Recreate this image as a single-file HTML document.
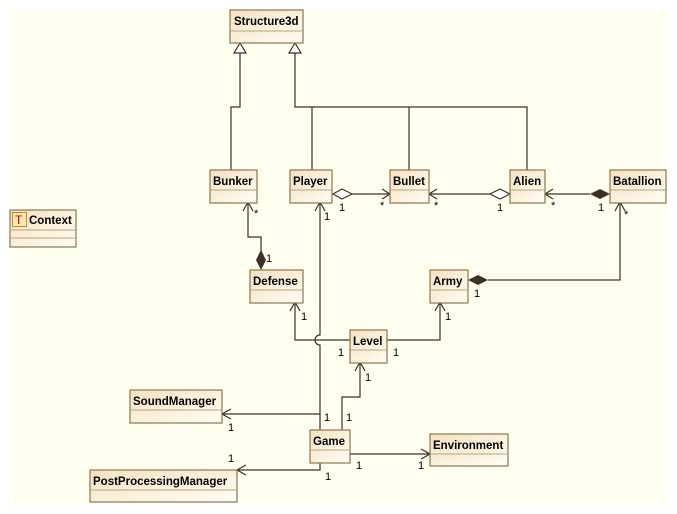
<!DOCTYPE html>
<html><head><meta charset="utf-8"><style>
html,body{margin:0;padding:0;background:#fff;}
svg{display:block;font-family:"Liberation Sans",sans-serif;}
.b{font-weight:bold;font-size:11.5px;fill:#000;}
.m{font-size:11px;fill:#000;}
.ln{stroke:#3d3123;stroke-width:1.2;fill:none;}
.bx{fill:url(#g);stroke:#8c7452;stroke-width:1.2;}
.dv{stroke:#b8a27e;stroke-width:1;}
</style></head><body>
<svg width="677" height="514" viewBox="0 0 677 514" xmlns="http://www.w3.org/2000/svg">
<defs>
<linearGradient id="g" x1="0" y1="0" x2="1" y2="1">
<stop offset="0" stop-color="#f4e2c0"/><stop offset="1" stop-color="#fffdf4"/>
</linearGradient>
</defs>
<rect x="10" y="10" width="657" height="494" fill="#fffff0"/>

<!-- generalization lines -->
<path class="ln" d="M240 53 V107 H231 V170"/>
<path class="ln" d="M295 53 V107 H527 V170 M312 107 V170 M409 107 V170"/>
<polygon points="240,43 234,53 246,53" fill="#fff" stroke="#3d3123" stroke-width="1.2"/>
<polygon points="295,43 289,53 301,53" fill="#fff" stroke="#3d3123" stroke-width="1.2"/>

<!-- Player - Bullet -->
<path class="ln" d="M352 194 H390 M382 189 L390 194 L382 199"/>
<polygon points="333,194 342,189 352,194 342,199" fill="#fff" stroke="#3d3123" stroke-width="1.2"/>
<!-- Alien - Bullet -->
<path class="ln" d="M490 194 H429 M437 189 L429 194 L437 199"/>
<polygon points="510,194 500,189 490,194 500,199" fill="#fff" stroke="#3d3123" stroke-width="1.2"/>
<!-- Batallion - Alien -->
<path class="ln" d="M590 194 H545 M553 189 L545 194 L553 199"/>
<polygon points="610,194 600,189 590,194 600,199" fill="#3d3123"/>
<!-- Bunker - Defense -->
<path class="ln" d="M248 202 V237 H261 V252 M243 211 L248 202 L253 211"/>
<polygon points="261,250 256,260 261,270 266,260" fill="#3d3123"/>
<!-- Player <- Game with hop -->
<path class="ln" d="M320 202 V335 A5 5 0 0 0 320 345 V430 M315 211 L320 202 L325 211"/>
<!-- Defense <- Level -->
<path class="ln" d="M295 302 V340 H350 M290 311 L295 302 L300 311"/>
<!-- Army <- Level -->
<path class="ln" d="M387 340 H440 V302 M435 311 L440 302 L445 311"/>
<!-- Army - Batallion -->
<path class="ln" d="M488 280 H620 V202 M615 211 L620 202 L625 211"/>
<polygon points="468,280 478,275 488,280 478,285" fill="#3d3123"/>
<!-- Game -> Level -->
<path class="ln" d="M342 430 V397 H360 V362 M355 371 L360 362 L365 371"/>
<!-- Game -> SoundManager -->
<path class="ln" d="M320 414 H222 M231 409 L222 414 L231 419"/>
<!-- Game -> PPM -->
<path class="ln" d="M320 462 V470 H237 M246 465 L237 470 L246 475"/>
<!-- Game -> Environment -->
<path class="ln" d="M350 454 H430 M421 449 L430 454 L421 459"/>

<!-- boxes -->
<g>
<rect class="bx" x="230" y="10" width="73" height="33"/><line class="dv" x1="230" y1="31" x2="303" y2="31"/><text class="b" x="234" y="25">Structure3d</text>
<rect class="bx" x="210" y="170" width="47" height="33"/><line class="dv" x1="210" y1="190" x2="257" y2="190"/><text class="b" x="213" y="185">Bunker</text>
<rect class="bx" x="290" y="170" width="42" height="33"/><line class="dv" x1="290" y1="190" x2="332" y2="190"/><text class="b" x="293" y="185">Player</text>
<rect class="bx" x="390" y="170" width="39" height="33"/><line class="dv" x1="390" y1="190" x2="429" y2="190"/><text class="b" x="393" y="185">Bullet</text>
<rect class="bx" x="510" y="170" width="35" height="33"/><line class="dv" x1="510" y1="190" x2="545" y2="190"/><text class="b" x="513" y="185">Alien</text>
<rect class="bx" x="610" y="170" width="56" height="33"/><line class="dv" x1="610" y1="190" x2="666" y2="190"/><text class="b" x="613" y="185">Batallion</text>
<rect class="bx" x="10" y="210" width="66" height="37"/><line class="dv" x1="10" y1="230" x2="76" y2="230"/><line class="dv" x1="10" y1="238" x2="76" y2="238"/>
<rect x="12.5" y="212.5" width="14" height="14" fill="#fbe7b0" stroke="#c08a2a" stroke-width="1"/><text x="15" y="224" font-size="12" fill="#c00000">T</text>
<text class="b" x="29" y="224">Context</text>
<rect class="bx" x="250" y="270" width="53" height="33"/><line class="dv" x1="250" y1="290" x2="303" y2="290"/><text class="b" x="253" y="285">Defense</text>
<rect class="bx" x="430" y="270" width="38" height="33"/><line class="dv" x1="430" y1="290" x2="468" y2="290"/><text class="b" x="433" y="285">Army</text>
<rect class="bx" x="350" y="330" width="37" height="33"/><line class="dv" x1="350" y1="350" x2="387" y2="350"/><text class="b" x="353" y="345">Level</text>
<rect class="bx" x="130" y="390" width="92" height="33"/><line class="dv" x1="130" y1="410" x2="222" y2="410"/><text class="b" x="133" y="405">SoundManager</text>
<rect class="bx" x="310" y="430" width="40" height="33"/><line class="dv" x1="310" y1="450" x2="350" y2="450"/><text class="b" x="313" y="445">Game</text>
<rect class="bx" x="430" y="434" width="78" height="32"/><line class="dv" x1="430" y1="454" x2="508" y2="454"/><text class="b" x="433" y="449">Environment</text>
<rect class="bx" x="90" y="470" width="147" height="32"/><line class="dv" x1="90" y1="490" x2="237" y2="490"/><text class="b" x="93" y="485">PostProcessingManager</text>
</g>

<!-- multiplicities -->
<g class="m">
<text x="339" y="211">1</text><text x="380" y="209">*</text>
<text x="434" y="209">*</text><text x="497" y="211">1</text>
<text x="551" y="209">*</text><text x="598" y="211">1</text>
<text x="254" y="217">*</text><text x="266" y="262">1</text>
<text x="324" y="220">1</text>
<text x="301" y="320">1</text><text x="338" y="356">1</text>
<text x="393" y="356">1</text><text x="445" y="320">1</text>
<text x="474" y="297">1</text><text x="624" y="218">*</text>
<text x="365" y="381">1</text><text x="346" y="421">1</text>
<text x="324" y="421">1</text><text x="228" y="431">1</text>
<text x="228" y="462">1</text><text x="325" y="480">1</text>
<text x="356" y="469">1</text><text x="418" y="469">1</text>
</g>
</svg>
</body></html>
